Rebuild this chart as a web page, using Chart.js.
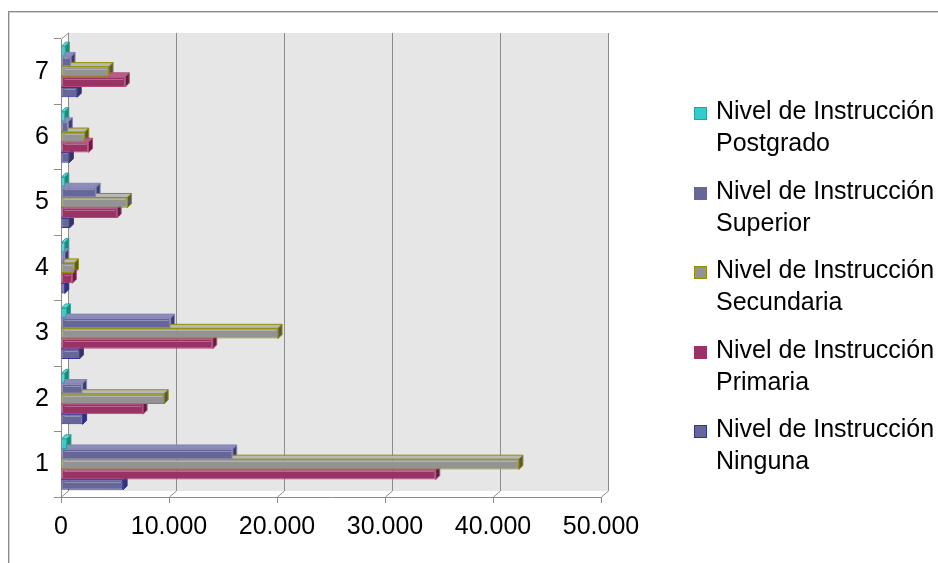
<!DOCTYPE html>
<html>
<head>
<meta charset="utf-8">
<script src="https://cdn.jsdelivr.net/npm/chart.js@4.4.1/dist/chart.umd.min.js"></script>
<style>
  html, body { margin: 0; padding: 0; background: #fff; }
  #wrap { position: relative; width: 938px; height: 563px; overflow: hidden; }
  #c { position: absolute; left: 0; top: 0; }
  #legend { position: absolute; left: 0; top: 0; font-family: "Liberation Sans", Arial, sans-serif; font-size: 25px; color: #000; }
  .item { position: absolute; left: 716px; width: 226px; line-height: 32px; }
  .sw { position: absolute; left: -22px; top: 13px; width: 11px; height: 11px; border: 1px solid; }
</style>
</head>
<body>
<div id="wrap">
  <canvas id="c" width="938" height="563"></canvas>
  <div id="legend"></div>
</div>
<script>
// Categories (bottom to top) and one value list per education level
const categories = ['1', '2', '3', '4', '5', '6', '7'];
const seriesLabels = [
  'Nivel de Instrucción Postgrado',
  'Nivel de Instrucción Superior',
  'Nivel de Instrucción Secundaria',
  'Nivel de Instrucción Primaria',
  'Nivel de Instrucción Ninguna'
];
const postgrado  = [550, 350, 500, 350, 350, 350, 400];
const superior   = [15900, 2000, 10150, 350, 3250, 680, 930];
const secundaria = [42400, 9550, 20100, 1250, 6150, 2200, 4450];
const primaria   = [34700, 7600, 14050, 1050, 5200, 2550, 5950];
const ninguna    = [5750, 2000, 1700, 350, 780, 770, 1500];
const xTicks = [0, 10000, 20000, 30000, 40000, 50000];

// Look of each series: front face, outline, side face, top face
const looks = [
  { fill: '#33CCCC', line: '#2a9f9f', side: '#1d8a70', top: '#5fd8c8' },
  { fill: '#666699', line: '#8585b8', side: '#3e3e6a', top: '#8c8cbb' },
  { fill: '#939393', line: '#8f8f00', side: '#555555', top: '#b8b8b8' },
  { fill: '#993366', line: '#b04c7c', side: '#5e1f40', top: '#b95c88' },
  { fill: '#666699', line: '#333399', side: '#333366', top: '#8585b5' }
];
const seriesValues = [postgrado, superior, secundaria, primaria, ninguna];

const FONT = '"Liberation Sans", Arial, sans-serif';
const DX = 7, DY = 6;     // depth of the back wall
const BD = 4;             // depth of each bar

function fmtThousands(v) {
  return String(v).replace(/\B(?=(\d{3})+(?!\d))/g, '.');
}

// Back wall, frame and the bar depth faces
const depthPlugin = {
  id: 'depth',
  beforeDraw(chart) {
    const ctx = chart.ctx;
    const a = chart.chartArea;
    const xs = chart.scales.x;
    ctx.save();
    // outer frame
    ctx.strokeStyle = '#8a8a8a';
    ctx.lineWidth = 1;
    ctx.strokeRect(8.5, 11.5, 1200, 1200);
    ctx.strokeStyle = '#d0d0d0';
    ctx.strokeRect(9.5, 12.5, 1200, 1200);
    // back wall
    const wl = xs.getPixelForValue(0) + DX;
    const wr = xs.getPixelForValue(xTicks[xTicks.length - 1]) + DX;
    const wt = a.top - DY;
    const wb = a.bottom - DY;
    ctx.fillStyle = '#e6e6e6';
    ctx.fillRect(wl, wt, wr - wl, wb - wt);
    ctx.strokeStyle = '#8c8c8c';
    ctx.lineWidth = 1;
    xTicks.forEach(v => {
      const xf = Math.round(xs.getPixelForValue(v)) + 0.5;
      const xb = xf + DX;
      ctx.beginPath();
      ctx.moveTo(xb, wt);
      ctx.lineTo(xb, wb);
      ctx.lineTo(xf, a.bottom);
      ctx.stroke();
    });
    // top-left edge of the side wall
    const x0 = Math.round(xs.getPixelForValue(0)) + 0.5;
    ctx.beginPath();
    ctx.moveTo(x0, a.top);
    ctx.lineTo(x0 + DX, wt);
    ctx.stroke();
    ctx.restore();
  },
  beforeDatasetsDraw(chart) {
    const ctx = chart.ctx;
    ctx.save();
    ctx.lineWidth = 1;
    chart.data.datasets.forEach((ds, i) => {
      const look = looks[i];
      chart.getDatasetMeta(i).data.forEach(bar => {
        const p = bar.getProps(['x', 'y', 'base', 'height'], true);
        const t = p.y - p.height / 2;
        const b = p.y + p.height / 2;
        const l = p.base, r = p.x;
        // top face
        ctx.beginPath();
        ctx.moveTo(l, t);
        ctx.lineTo(l + BD, t - BD);
        ctx.lineTo(r + BD, t - BD);
        ctx.lineTo(r, t);
        ctx.closePath();
        ctx.fillStyle = look.top;
        ctx.fill();
        ctx.strokeStyle = look.line;
        ctx.stroke();
        // side face
        ctx.beginPath();
        ctx.moveTo(r, t);
        ctx.lineTo(r + BD, t - BD);
        ctx.lineTo(r + BD, b - BD);
        ctx.lineTo(r, b);
        ctx.closePath();
        ctx.fillStyle = look.side;
        ctx.fill();
        ctx.stroke();
      });
    });
    ctx.restore();
  },
  afterDatasetsDraw(chart) {
    // soft highlight along the upper edge of each front face
    const ctx = chart.ctx;
    ctx.save();
    chart.data.datasets.forEach((ds, i) => {
      chart.getDatasetMeta(i).data.forEach(bar => {
        const p = bar.getProps(['x', 'y', 'base', 'height'], true);
        if (p.x - p.base < 8) return;
        const yy = Math.round(p.y - p.height / 2) + 2.5;
        ctx.strokeStyle = 'rgba(255,255,255,0.28)';
        ctx.beginPath();
        ctx.moveTo(p.base + 3, yy);
        ctx.lineTo(p.x - 2, yy);
        ctx.stroke();
      });
    });
    ctx.restore();
  }
};

const chart = new Chart(document.getElementById('c'), {
  type: 'bar',
  data: {
    labels: categories,
    datasets: seriesValues.map((vals, i) => ({
      label: seriesLabels[i],
      data: vals,
      backgroundColor: looks[i].fill,
      borderColor: looks[i].line,
      borderWidth: 1,
      borderSkipped: false,
      categoryPercentage: 0.78,
      barPercentage: 1.0
    }))
  },
  options: {
    indexAxis: 'y',
    responsive: false,
    animation: false,
    devicePixelRatio: 1,
    layout: { padding: { left: 0, top: 39, right: 337, bottom: 0 } },
    plugins: { legend: { display: false }, tooltip: { enabled: false } },
    scales: {
      x: {
        min: 0,
        max: 50000,
        afterBuildTicks(s) { s.ticks = xTicks.map(v => ({ value: v })); },
        afterFit(s) { s.height = 66; },
        ticks: {
          callback: v => fmtThousands(v),
          font: { family: FONT, size: 25 },
          color: '#000',
          padding: 9,
          maxRotation: 0
        },
        grid: { drawOnChartArea: false, drawTicks: true, tickLength: 6, color: '#8c8c8c' },
        border: { color: '#8c8c8c' }
      },
      y: {
        reverse: true,
        afterFit(s) { s.width = 61; },
        ticks: { font: { family: FONT, size: 25 }, color: '#000', padding: 5 },
        grid: { drawOnChartArea: false, drawTicks: true, tickLength: 7, color: '#8c8c8c', offset: true },
        border: { color: '#8c8c8c' }
      }
    }
  },
  plugins: [depthPlugin]
});

// Legend on the right, two lines per entry
const legend = document.getElementById('legend');
seriesLabels.forEach((label, i) => {
  const item = document.createElement('div');
  item.className = 'item';
  item.style.top = (94 + i * 79.5) + 'px';
  const sw = document.createElement('span');
  sw.className = 'sw';
  sw.style.background = looks[i].fill;
  sw.style.borderColor = i === 2 ? '#8f8f00' : (i === 0 ? '#2a9f9f' : (i === 4 ? '#333399' : looks[i].fill));
  item.appendChild(sw);
  item.appendChild(document.createTextNode(label));
  legend.appendChild(item);
});
</script>
</body>
</html>
